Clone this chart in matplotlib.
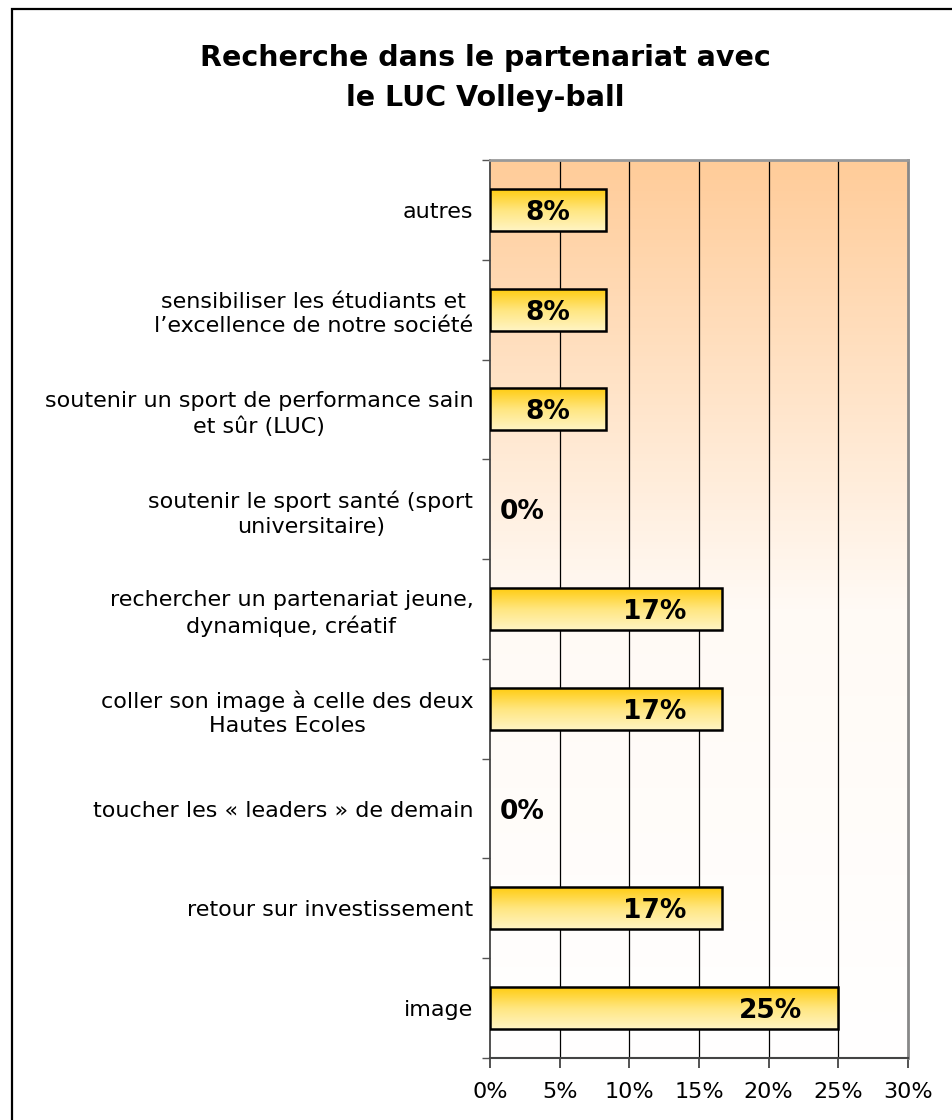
import matplotlib.pyplot as plt
import numpy as np
from matplotlib.patches import Rectangle
from matplotlib.colors import LinearSegmentedColormap

# categories listed top to bottom, as in the chart
categories = [
    "autres",
    "sensibiliser les étudiants et\nl’excellence de notre société",
    "soutenir un sport de performance sain\net sûr (LUC)",
    "soutenir le sport santé (sport\nuniversitaire)",
    "rechercher un partenariat jeune,\ndynamique, créatif",
    "coller son image à celle des deux\nHautes Ecoles",
    "toucher les « leaders » de demain",
    "retour sur investissement",
    "image",
]
values = [8.33, 8.33, 8.33, 0.0, 16.67, 16.67, 0.0, 16.67, 25.0]
value_labels = ["8%", "8%", "8%", "0%", "17%", "17%", "0%", "17%", "25%"]
x_ticks = [0, 5, 10, 15, 20, 25, 30]
x_tick_labels = ["0%", "5%", "10%", "15%", "20%", "25%", "30%"]
title = "Recherche dans le partenariat avec\nle LUC Volley-ball"

plt.rcParams['font.family'] = ['DejaVu Sans']

fig = plt.figure(figsize=(9.53, 11.2), dpi=100)
fig.patch.set_facecolor('white')
# outer frame (only left and top edges fall inside the picture)
fig.patches.append(Rectangle((12 / 953, -0.05), 1.1, 1 - 9 / 1120 + 0.05,
                             transform=fig.transFigure, fill=False,
                             edgecolor='black', linewidth=1.6))

ax = fig.add_axes([490 / 953, 1 - 1058 / 1120, 418 / 953, 898 / 1120])

n = len(categories)
y = np.arange(n)

# background: peach at top fading to white at bottom
bg_cmap = LinearSegmentedColormap.from_list('bg', ['#ffffff', '#fffaf5', '#ffcc99'])
bg = np.linspace(0, 1, 256).reshape(-1, 1)
ax.imshow(bg, cmap=bg_cmap, origin='lower', aspect='auto',
          extent=[0, 1, 0, 1], transform=ax.transAxes, zorder=0)

ax.set_xlim(0, 30)
ax.set_ylim(n - 0.5, -0.5)

for xt in x_ticks[1:-1]:
    ax.axvline(xt, color='black', linewidth=0.9, zorder=1)

bars = ax.barh(y, values, height=0.42, facecolor='none',
               edgecolor='black', linewidth=1.8, zorder=3)

bar_cmap = LinearSegmentedColormap.from_list('bar', ['#ffcc11', '#ffe680', '#fff4c4'])
grad = np.linspace(0, 1, 128).reshape(-1, 1)
for bar in bars:
    w = bar.get_width()
    if w <= 0:
        bar.set_linewidth(0)
        continue
    x0, y0 = bar.get_x(), bar.get_y()
    h = bar.get_height()
    ax.imshow(grad, cmap=bar_cmap, origin='upper', aspect='auto',
              extent=[x0, x0 + w, y0 + h, y0], zorder=2)

for yi, v, lab in zip(y, values, value_labels):
    if v > 0:
        ax.text(v - 2.6, yi + 0.03, lab, ha='right', va='center', fontsize=19,
                fontweight='bold', color='black', zorder=4)
    else:
        ax.text(0.7, yi + 0.03, lab, ha='left', va='center', fontsize=19,
                fontweight='bold', color='black', zorder=4)

ax.set_yticks(y)
ax.set_yticklabels(categories, fontsize=16, multialignment='center',
                   linespacing=1.3)
ax.set_yticks(np.arange(-0.5, n, 1.0), minor=True)
ax.tick_params(axis='y', which='major', length=0, pad=12)
ax.tick_params(axis='y', which='minor', length=6, color='#555555', width=1)

ax.set_xticks(x_ticks)
ax.set_xticklabels(x_tick_labels, fontsize=16)
ax.tick_params(axis='x', length=7, color='#444444', width=1.3, pad=10)

ax.spines['left'].set_color('#444444')
ax.spines['left'].set_linewidth(1.3)
ax.spines['bottom'].set_color('#444444')
ax.spines['bottom'].set_linewidth(1.5)
ax.spines['top'].set_color('#999999')
ax.spines['top'].set_linewidth(2)
ax.spines['right'].set_color('#888888')
ax.spines['right'].set_linewidth(2)

fig.text(485 / 953, 1 - 78 / 1120, title, ha='center', va='center',
         fontsize=20.5, fontweight='bold', linespacing=1.55)

fig.savefig('out.png', dpi=100)
